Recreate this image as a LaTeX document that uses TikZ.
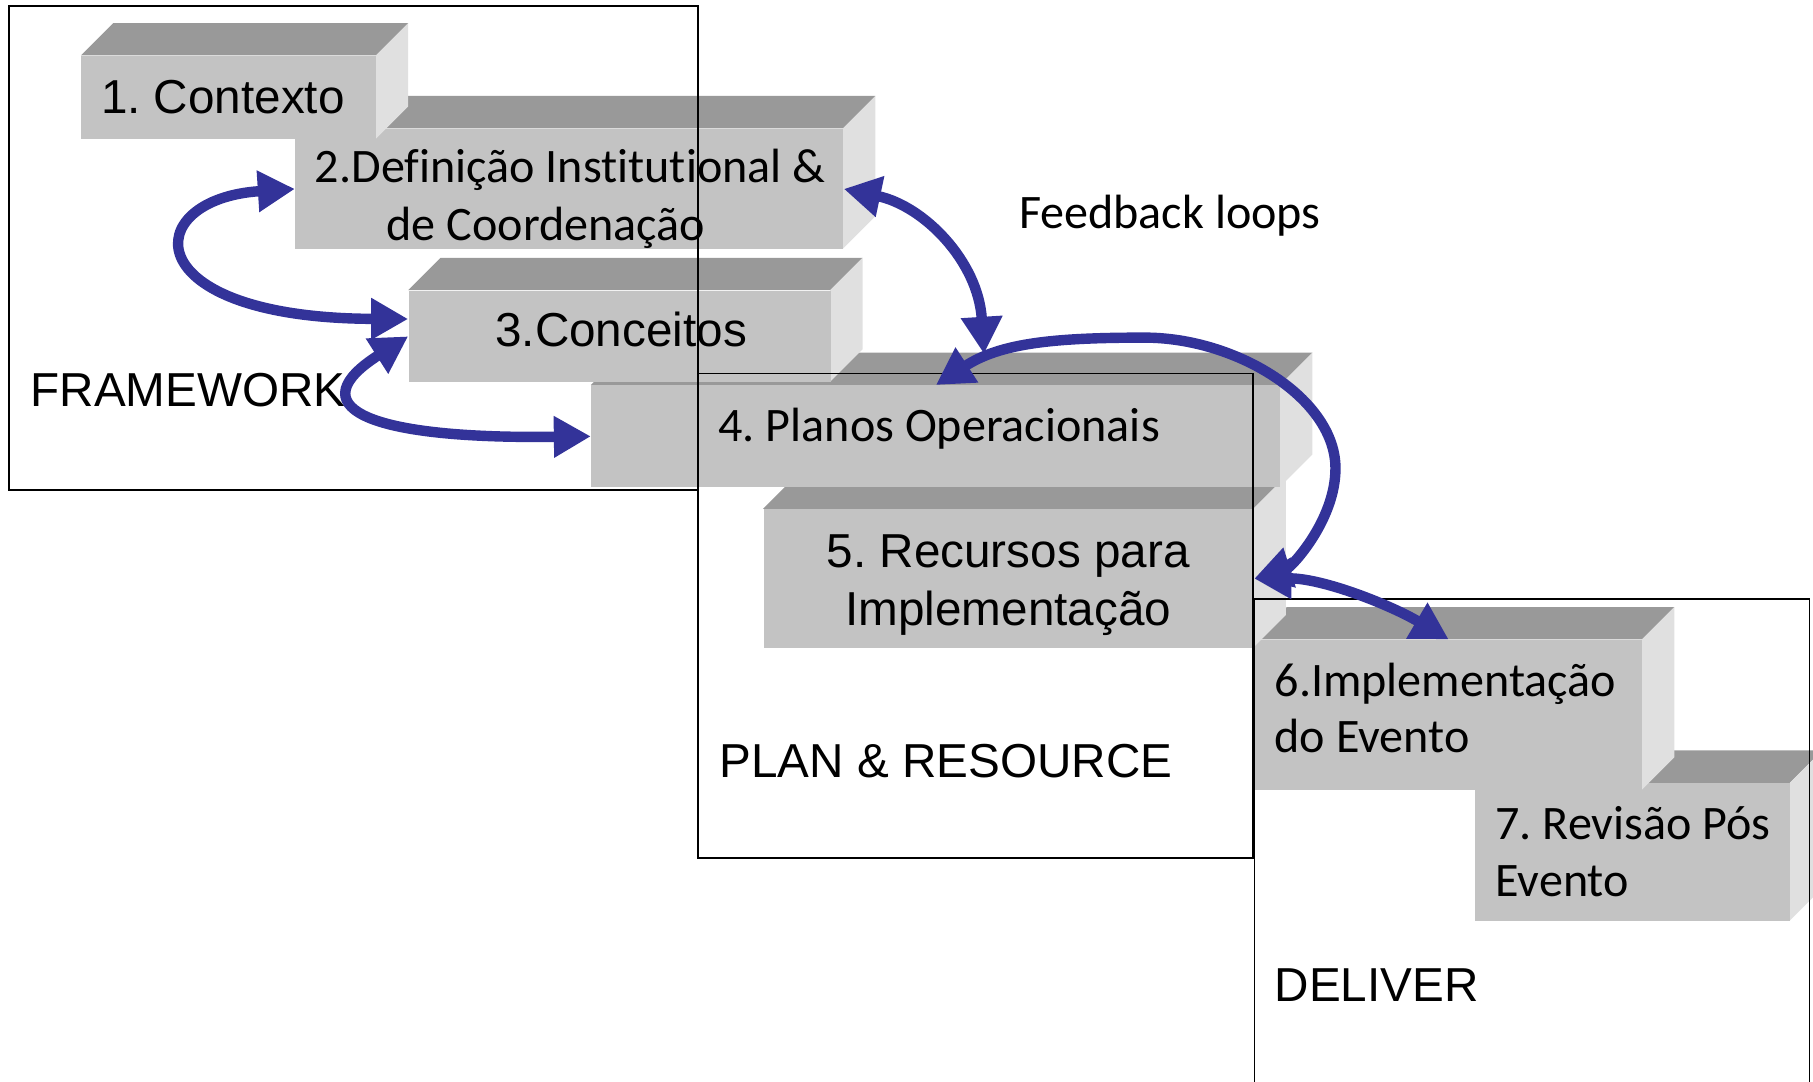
\documentclass[tikz,border=0pt]{standalone}
\usepackage{fontspec}
\setmainfont{Liberation Sans}
\newfontfamily\calibri[Ligatures=NoCommon]{Carlito}
\usepackage{tikz}
\usetikzlibrary{arrows.meta}
\frenchspacing

\definecolor{loopblue}{RGB}{51,51,153}
\definecolor{frontgray}{RGB}{195,195,195}
\definecolor{topgray}{RGB}{153,153,153}
\definecolor{sidegray}{RGB}{224,224,224}

% one step: name, x, y (top left of the front face), width, height
\newcommand{\degrau}[5]{%
  \fill[topgray] (#2,#3) -- ++(28,-28) -- ++(#4,0) -- ++(-28,28) -- cycle;
  \fill[sidegray] (#2+#4,#3) -- ++(28,-28) -- ++(0,#5) -- ++(-28,28) -- cycle;
  \node[frontface,minimum width=#4*0.5pt,minimum height=#5*0.5pt,anchor=north west] (#1) at (#2,#3) {};
}

\begin{document}
\begin{tikzpicture}[x=0.5pt,y=-0.5pt,
    frontface/.style={fill=frontgray,inner sep=0},
    arial/.style={font=\fontsize{20.6}{24}\selectfont,inner sep=0},
    calib/.style={font=\calibri\fontsize{20.8}{24}\selectfont,inner sep=0},
    moldura/.style={draw=black,line width=0.8pt},
    laco/.style={draw=loopblue,line width=4.5pt,
      {Triangle[length=16pt,width=17pt]}-{Triangle[length=16pt,width=17pt]}}]
    \useasboundingbox (0,0) rectangle (1568,935);

    % steps, back to front
    \degrau{b7}{1275}{677}{273}{119}
    \degrau{b6}{1085}{553}{335}{130}
    \degrau{b5}{660}{440}{424}{120}
    \degrau{b4}{511}{333}{596}{88}
    \degrau{b3}{353}{251}{365}{79}
    \degrau{b2}{255}{111}{474}{104}
    \degrau{b1}{70}{48}{255}{72}

    \node[arial,anchor=base west] (t1) at (87,98) {1. Contexto};
    \node[calib,anchor=base west] (t2a) at (272,158) {2.Definição Institutional \&};
    \node[calib,anchor=base west] (t2b) at (334,208) {de Coordenação};
    \node[arial,anchor=base west] (t3) at (428,300) {3.Conceitos};
    \node[calib,anchor=base west] (t4) at (621,382) {4. Planos Operacionais};
    \node[arial,anchor=base] (t5a) at (872,491) {5. Recursos para};
    \node[arial,anchor=base] (t5b) at (872,541) {Implementação};
    \node[calib,anchor=base west] (t6a) at (1102,602) {6.Implementação};
    \node[calib,anchor=base west] (t6b) at (1102,651) {do Evento};
    \node[calib,anchor=base west] (t7a) at (1293,726) {7. Revisão Pós};
    \node[calib,anchor=base west] (t7b) at (1293,775) {Evento};

    \node[arial,anchor=base west] (fw) at (26,352) {FRAMEWORK};
    \node[arial,anchor=base west] (pr) at (622,672) {PLAN \& RESOURCE};
    \node[arial,anchor=base west] (dl) at (1102,866) {DELIVER};
    \node[calib,anchor=base west] (fb) at (881,198) {Feedback loops};

    % phase frames
    \draw[moldura] (8,5) rectangle (604,424);
    \draw[moldura] (604,323) rectangle (1084,742);
    \draw[moldura] (1085,940) -- (1085,518) -- (1565,518) -- (1565,940);

    % feedback loops
    \coordinate (c4top) at (851,306);
    \coordinate (fb1) at (990,292);
    \coordinate (fb2) at (1155,405);
    \draw[laco] (b2.west) .. controls (120,172) and (115,275) .. ([yshift=7.5pt]b3.west);
    \draw[laco] (b3.west) .. controls (260,350) and (310,380) .. (b4.west);
    \draw[laco] (b2.east) .. controls (799,178) and (846,226) .. (c4top);
    \draw[laco] (b4.north) .. controls (865,297) and (910,292) .. (fb1)
        .. controls +(80,0) and +(0,-60) .. (fb2)
        .. controls +(0,45) and +(32,-10) .. (b5.east);
    \draw[laco] (b5.east) .. controls (1144,500) and (1202,523) .. (b6.north);
\end{tikzpicture}
\end{document}
